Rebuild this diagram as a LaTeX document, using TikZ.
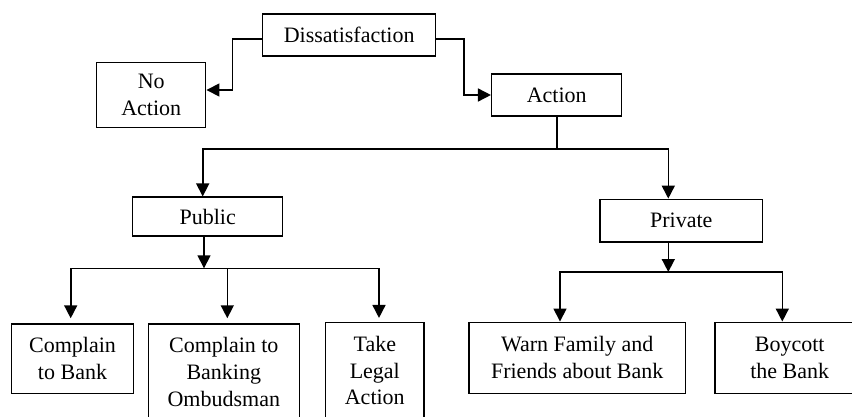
\documentclass[tikz,border=0pt]{standalone}
\usepackage{fontspec}
\setmainfont{Liberation Serif}
\usetikzlibrary{arrows.meta}
\begin{document}
\begin{tikzpicture}[x=1pt,y=1pt,
  box/.style={draw, line width=1.5pt, align=center, inner sep=0pt, font=\fontsize{22}{26.7}\selectfont},
  arr/.style={line width=1.6pt, -{Triangle[length=13pt,width=13pt]}},
  ln/.style={line width=1.6pt}]
\useasboundingbox (0,0) rectangle (852,-417);
\clip (0,0) rectangle (852,-417);
\node[box, minimum width=173pt, minimum height=42pt] (dis) at (349.2,-35) {Dissatisfaction};
\node[box, minimum width=109pt, minimum height=65.4pt] (noact) at (151.2,-95) {No\\Action};
\node[box, minimum width=130pt, minimum height=42pt] (act) at (556.7,-95) {Action};
\node[box, minimum width=150pt, minimum height=39pt] (pub) at (207.7,-216.7) {Public};
\node[box, minimum width=162.7pt, minimum height=42.7pt] (priv) at (681.3,-220.7) {Private};
\node[box, minimum width=121.6pt, minimum height=69.3pt] (cb) at (72.5,-358.7) {Complain\\to Bank};
\node[box, minimum width=151pt, minimum height=96pt] (cbo) at (223.8,-372) {Complain to\\Banking\\Ombudsman};
\node[box, minimum width=98.3pt, minimum height=96pt] (tla) at (374.8,-370.7) {Take\\Legal\\Action};
\node[box, minimum width=216.3pt, minimum height=71pt] (warn) at (577.2,-357.8) {Warn Family and\\Friends about Bank};
\node[box, minimum width=149.4pt, minimum height=71pt] (boy) at (789.7,-357.8) {Boycott\\the Bank};
% top connectors
\draw[arr] ([yshift=-4pt]dis.west) -- ++(-29.4,0) |- ([yshift=5pt]noact.east);
\draw[arr] ([yshift=-4pt]dis.east) -- ++(27.3,0) |- (act.west);
\coordinate (s1) at (556.7,-149.3);
\draw[ln] (act.south) -- (s1);
\draw[arr] (s1) -| ([xshift=-5pt]pub.north);
\draw[arr] (s1) -| ([xshift=-13pt]priv.north);
% public branch
\coordinate (s2) at (204,-268.3);
\draw[arr] ([xshift=-3.7pt]pub.south) -- (s2);
\draw[arr, shorten >=5pt] (s2) -| ([xshift=-1.8pt]cb.north);
\draw[arr, shorten >=5pt] (s2) -| ([xshift=3.5pt]cbo.north);
\draw[arr, shorten >=4pt] (s2) -| ([xshift=4.2pt]tla.north);
% private branch
\coordinate (s3) at (668.3,-272);
\draw[arr] ([xshift=-13pt]priv.south) -- (s3);
\draw[arr] (s3) -| ([xshift=-17.2pt]warn.north);
\draw[arr] (s3) -| ([xshift=-7.4pt]boy.north);
\end{tikzpicture}
\end{document}
